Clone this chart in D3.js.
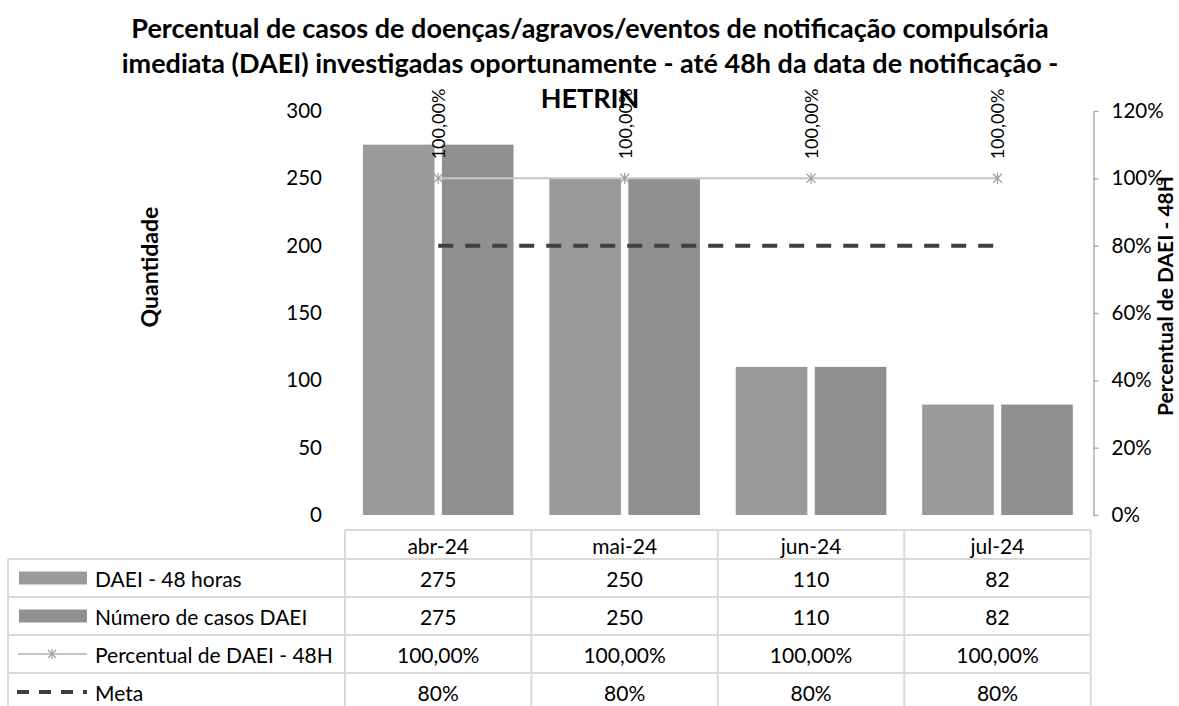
<!DOCTYPE html>
<html>
<head>
<meta charset="utf-8">
<script src="https://cdn.jsdelivr.net/npm/d3@7"></script>
<style>
  html, body { margin: 0; padding: 0; background: #ffffff; }
  svg { display: block; font-family: Lato, "Open Sans", sans-serif; }
</style>
</head>
<body>
<svg id="chart" width="1179" height="706"></svg>
<script>
// ---------- data ----------
const categories = ["abr-24", "mai-24", "jun-24", "jul-24"];
const daei48 = [275, 250, 110, 82];
const numeroCasos = [275, 250, 110, 82];
const percentual = [100, 100, 100, 100];
const meta = [80, 80, 80, 80];
const leftTicks = [0, 50, 100, 150, 200, 250, 300];
const rightTicks = [0, 20, 40, 60, 80, 100, 120];
const seriesNames = ["DAEI - 48 horas", "Número de casos DAEI", "Percentual de DAEI - 48H", "Meta"];
const titleLines = [
  "Percentual de casos de doenças/agravos/eventos de notificação compulsória",
  "imediata (DAEI) investigadas oportunamente - até 48h da data de notificação -",
  "HETRIN"
];

// ---------- layout ----------
const svg = d3.select("#chart");
const plotL = 345, plotR = 1090.7, plotT = 111, plotB = 515;
const colBar1 = "#9a9a9a", colBar2 = "#909090";
const colLine = "#c6c6c6", colMarker = "#a3a3a3", colMeta = "#404040";
const gridCol = "#d9d9d9";
const fmtPct2 = v => v.toFixed(2).replace(".", ",") + "%";
const fmtPct0 = v => v + "%";

const x = d3.scaleBand().domain(categories).range([plotL, plotR]).paddingInner(0).paddingOuter(0);
const xSub = d3.scaleBand().domain(["a", "b"]).range([0, x.bandwidth()]).paddingInner(0.0937).paddingOuter(0.2266);
const yL = d3.scaleLinear().domain([0, 300]).range([plotB, plotT]);
const yR = d3.scaleLinear().domain([0, 120]).range([plotB, plotT]);

// ---------- title ----------
const titleBase = [38, 73, 108];
svg.append("g").selectAll("text").data(titleLines).join("text")
  .attr("x", 590).attr("y", (d, i) => titleBase[i])
  .attr("text-anchor", "middle")
  .attr("font-weight", "bold").attr("font-size", 27).attr("fill", "#000")
  .text(d => d);

// ---------- bars ----------
const gBars = svg.append("g");
gBars.selectAll("rect.b1").data(categories).join("rect").attr("class", "b1")
  .attr("x", (d) => x(d) + xSub("a"))
  .attr("width", xSub.bandwidth())
  .attr("y", (d, i) => yL(daei48[i]))
  .attr("height", (d, i) => yL(0) - yL(daei48[i]))
  .attr("fill", colBar1);
gBars.selectAll("rect.b2").data(categories).join("rect").attr("class", "b2")
  .attr("x", (d) => x(d) + xSub("b"))
  .attr("width", xSub.bandwidth())
  .attr("y", (d, i) => yL(numeroCasos[i]))
  .attr("height", (d, i) => yL(0) - yL(numeroCasos[i]))
  .attr("fill", colBar2);

// ---------- meta dashed line ----------
const cx = d => x(d) + x.bandwidth() / 2;
svg.append("path")
  .datum(categories)
  .attr("fill", "none").attr("stroke", colMeta).attr("stroke-width", 4)
  .attr("stroke-dasharray", "15,12")
  .attr("d", d3.line().x(d => cx(d)).y((d, i) => yR(meta[i])));

// ---------- percentual line ----------
svg.append("path")
  .datum(categories)
  .attr("fill", "none").attr("stroke", colLine).attr("stroke-width", 2)
  .attr("d", d3.line().x(d => cx(d)).y((d, i) => yR(percentual[i])));

function star(g, px, py, r, color) {
  const s = g.append("g").attr("transform", `translate(${px},${py})`)
    .attr("stroke", color).attr("stroke-width", 1.3).attr("fill", "none");
  s.append("line").attr("x1", -r).attr("y1", -r).attr("x2", r).attr("y2", r);
  s.append("line").attr("x1", -r).attr("y1", r).attr("x2", r).attr("y2", -r);
  s.append("line").attr("x1", 0).attr("y1", -r * 1.25).attr("x2", 0).attr("y2", r * 1.25);
}
const gMarkers = svg.append("g");
categories.forEach((c, i) => star(gMarkers, cx(c), yR(percentual[i]), 4.5, colMarker));

// data labels
svg.append("g").selectAll("text").data(categories).join("text")
  .attr("transform", (d, i) => `translate(${cx(d)},${yR(percentual[i]) - 19}) rotate(-90)`)
  .attr("text-anchor", "start").attr("dominant-baseline", "central")
  .attr("font-size", 18).attr("fill", "#000")
  .text((d, i) => fmtPct2(percentual[i]));

// ---------- left axis ----------
const gL = svg.append("g").attr("transform", `translate(${plotL},0)`)
  .call(d3.axisLeft(yL).tickValues(leftTicks).tickSize(0).tickPadding(23).tickFormat(d => d));
gL.select(".domain").remove();
gL.selectAll("text").attr("font-size", 20.5).attr("font-family", "Lato").attr("fill", "#000");

// ---------- right axis ----------
const axisRX = 1093.5;
const gR = svg.append("g").attr("transform", `translate(${axisRX},0)`)
  .call(d3.axisRight(yR).tickValues(rightTicks).tickSize(5).tickSizeOuter(0).tickPadding(13).tickFormat(fmtPct0));
gR.select(".domain").attr("stroke", "#a6a6a6").attr("stroke-width", 1.3);
gR.selectAll(".tick line").attr("stroke", "#a6a6a6").attr("stroke-width", 1.3);
gR.selectAll("text").attr("font-size", 20.5).attr("font-family", "Lato").attr("fill", "#000");

// axis titles
svg.append("text")
  .attr("transform", "translate(149,267) rotate(-90)")
  .attr("text-anchor", "middle").attr("dominant-baseline", "central")
  .attr("font-weight", "bold").attr("font-size", 23).text("Quantidade");
svg.append("text")
  .attr("transform", "translate(1164,296) rotate(-90)")
  .attr("text-anchor", "middle").attr("dominant-baseline", "central")
  .attr("font-weight", "bold").attr("font-size", 21).text("Percentual de DAEI - 48H");

// ---------- data table ----------
const tableTop = 530, headerB = 559, rowH = 38, tableLeft = 8;
const rows = [
  { name: seriesNames[0], vals: daei48.map(String), key: "bar1" },
  { name: seriesNames[1], vals: numeroCasos.map(String), key: "bar2" },
  { name: seriesNames[2], vals: percentual.map(fmtPct2), key: "line" },
  { name: seriesNames[3], vals: meta.map(fmtPct0), key: "meta" }
];
const gT = svg.append("g").attr("stroke", gridCol).attr("stroke-width", 2).attr("fill", "none");
gT.append("line").attr("x1", plotL).attr("x2", plotR).attr("y1", tableTop).attr("y2", tableTop);
rows.forEach((r, i) => {
  const yy = headerB + i * rowH;
  gT.append("line").attr("x1", tableLeft).attr("x2", plotR).attr("y1", yy).attr("y2", yy);
});
const colEdges = categories.map(c => x(c)).concat([plotR]);
colEdges.forEach(xx => gT.append("line").attr("x1", xx).attr("x2", xx).attr("y1", tableTop).attr("y2", 710));
gT.append("line").attr("x1", tableLeft).attr("x2", tableLeft).attr("y1", headerB).attr("y2", 710);

// header text
svg.append("g").selectAll("text").data(categories).join("text")
  .attr("x", d => cx(d)).attr("y", (tableTop + headerB) / 2 + 1)
  .attr("text-anchor", "middle").attr("dominant-baseline", "central")
  .attr("font-size", 21).text(d => d);

// rows text + legend keys
rows.forEach((r, i) => {
  const yc = headerB + i * rowH + rowH / 2;
  const g = svg.append("g");
  g.selectAll("text.v").data(r.vals).join("text").attr("class", "v")
    .attr("x", (d, j) => cx(categories[j])).attr("y", yc)
    .attr("text-anchor", "middle").attr("dominant-baseline", "central")
    .attr("font-size", 21).text(d => d);
  g.append("text").attr("x", 95).attr("y", yc)
    .attr("dominant-baseline", "central").attr("font-size", 21).text(r.name);
  if (r.key === "bar1" || r.key === "bar2") {
    g.append("rect").attr("x", 19).attr("y", yc - 6.5).attr("width", 68).attr("height", 13)
      .attr("fill", r.key === "bar1" ? colBar1 : colBar2);
  } else if (r.key === "line") {
    g.append("line").attr("x1", 18).attr("x2", 87).attr("y1", yc).attr("y2", yc)
      .attr("stroke", colLine).attr("stroke-width", 2);
    star(g, 52, yc, 4, colMarker);
  } else {
    g.append("line").attr("x1", 17).attr("x2", 87).attr("y1", yc).attr("y2", yc)
      .attr("stroke", colMeta).attr("stroke-width", 4).attr("stroke-dasharray", "12,10");
  }
});
</script>
</body>
</html>
